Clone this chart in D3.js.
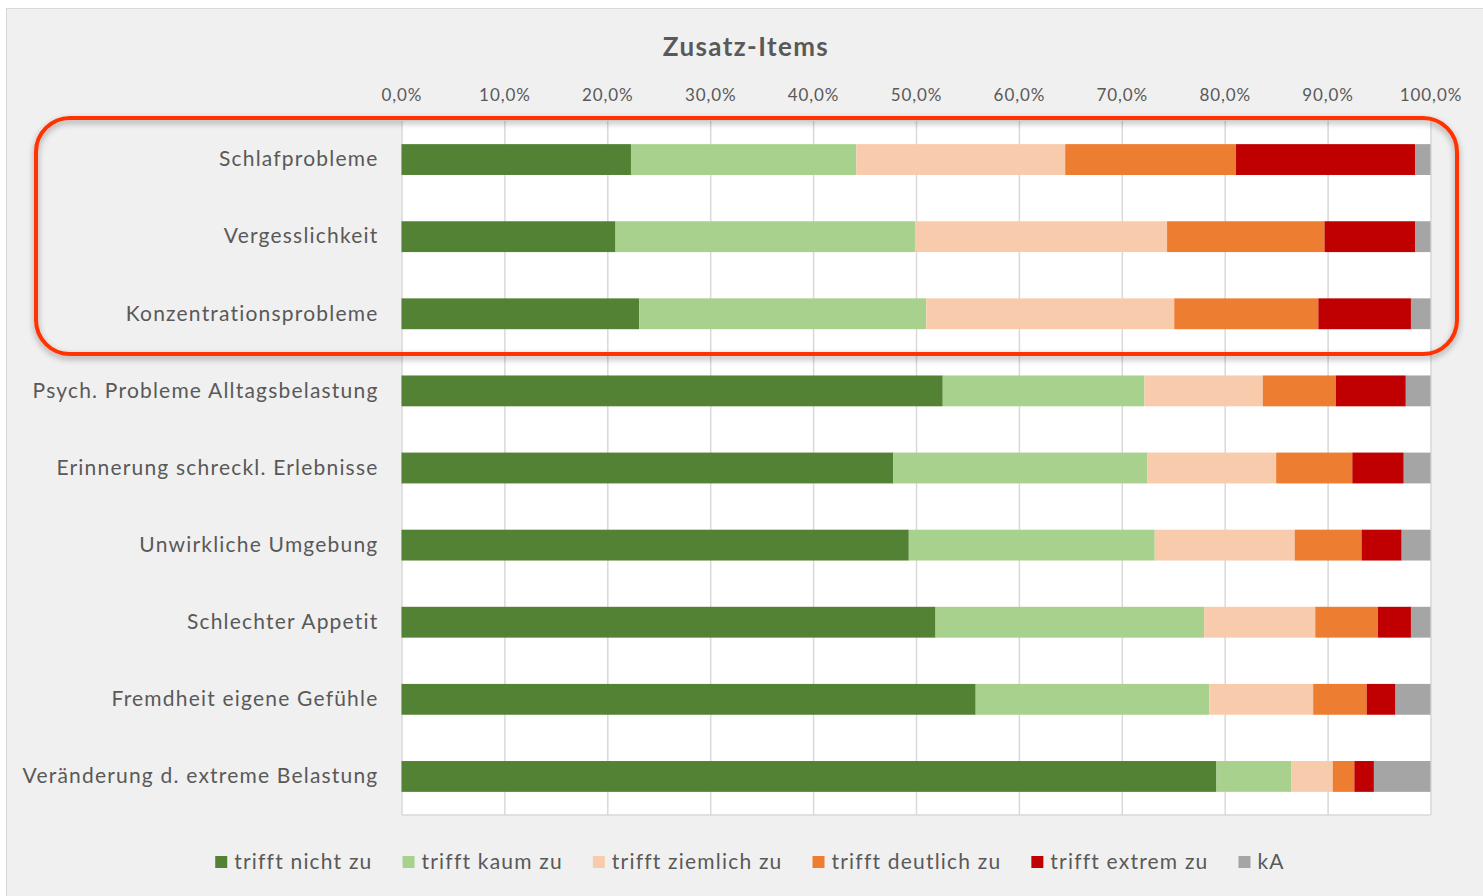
<!DOCTYPE html>
<html>
<head>
<meta charset="utf-8">
<script src="https://cdn.jsdelivr.net/npm/d3@7"></script>
<style>
  body { margin: 0; background: #fff; }
  text { font-family: Lato, "Noto Sans", sans-serif; fill: #595959; }
</style>
</head>
<body>
<div id="graf"></div>
<script>
// Daten (Anteile in %)
kategorien = ['Schlafprobleme', 'Vergesslichkeit', 'Konzentrationsprobleme',
  'Psych. Probleme Alltagsbelastung', 'Erinnerung schreckl. Erlebnisse',
  'Unwirkliche Umgebung', 'Schlechter Appetit', 'Fremdheit eigene Gefühle',
  'Veränderung d. extreme Belastung']
serien = ['trifft nicht zu', 'trifft kaum zu', 'trifft ziemlich zu',
  'trifft deutlich zu', 'trifft extrem zu', 'kA']
farben = ['#548235', '#a9d18e', '#f8cbad', '#ed7d31', '#c00000', '#a5a5a5']

nichtZu   = [22.3, 20.8, 23.1, 52.6, 47.8, 49.3, 51.9, 55.8, 79.2]
kaumZu    = [21.9, 29.1, 27.9, 19.6, 24.7, 23.9, 26.1, 22.7, 7.3]
ziemlich  = [20.3, 24.5, 24.1, 11.5, 12.5, 13.6, 10.8, 10.1, 4.0]
deutlich  = [16.6, 15.3, 14.0, 7.1, 7.4, 6.5, 6.1, 5.2, 2.1]
extrem    = [17.4, 8.8, 9.0, 6.8, 5.0, 3.9, 3.2, 2.8, 1.9]
keineAng  = [1.5, 1.5, 1.9, 2.4, 2.6, 2.8, 1.9, 3.4, 5.5]
xTicks = [0, 0.1, 0.2, 0.3, 0.4, 0.5, 0.6, 0.7, 0.8, 0.9, 1.0]

werte = [nichtZu, kaumZu, ziemlich, deutlich, extrem, keineAng]
tabelle = kategorien.map((k, i) => {
  fila = { kat: k }
  serien.forEach((s, j) => fila[s] = werte[j][i] / 100)
  return fila
})

// Leinwand
ancho_total = 1483
alto_total = 896
margins = { top: 121, left: 401.5, right: 52.5, bottom: 81 }
ancho = ancho_total - margins.left - margins.right
alto = alto_total - margins.top - margins.bottom

svg = d3.select('#graf').append('svg')
  .attr('width', ancho_total)
  .attr('height', alto_total)

defs = svg.append('defs')
sombra = defs.append('filter').attr('id', 'sombra')
  .attr('x', '-5%').attr('y', '-10%').attr('width', '110%').attr('height', '125%')
sombra.append('feDropShadow')
  .attr('dx', 0).attr('dy', 3).attr('stdDeviation', 3)
  .attr('flood-color', '#000').attr('flood-opacity', 0.35)

// Diagrammbereich
svg.append('rect')
  .attr('x', 6.5).attr('y', 8.5)
  .attr('width', ancho_total).attr('height', alto_total)
  .attr('fill', '#f0f0f0').attr('stroke', '#d9d9d9').attr('stroke-width', 1)

svg.append('text')
  .attr('x', 746).attr('y', 56)
  .attr('text-anchor', 'middle')
  .style('font-size', '26px').style('font-weight', 'bold')
  .style('letter-spacing', '1.4px')
  .text('Zusatz-Items')

g = svg.append('g')
  .attr('transform', `translate(${margins.left}, ${margins.top})`)

g.append('rect')
  .attr('width', ancho).attr('height', alto)
  .attr('fill', '#fff')

// Skalen
x = d3.scaleLinear().domain([0, 1]).range([0, ancho])
y = d3.scaleBand().domain(kategorien).range([0, alto])
  .paddingInner(0.6).paddingOuter(0.3)
color = d3.scaleOrdinal().domain(serien).range(farben)

deFormat = d3.formatLocale({ decimal: ',', thousands: '.', grouping: [3], currency: ['', ' €'] })

xAxGroup = g.append('g')
  .call(d3.axisTop(x).tickValues(xTicks).tickFormat(deFormat.format('.1%'))
    .tickSize(-alto).tickSizeOuter(0).tickPadding(20))
xAxGroup.select('.domain').remove()
xAxGroup.selectAll('line').attr('stroke', '#d9d9d9').attr('stroke-width', 1.5)
xAxGroup.selectAll('text').style('font-size', '17px').style('letter-spacing', '0.9px')
  .attr('fill', '#595959')

g.append('line')
  .attr('x1', 0).attr('x2', ancho).attr('y1', alto).attr('y2', alto)
  .attr('stroke', '#d9d9d9').attr('stroke-width', 1.5)

// Balken
stack = d3.stack().keys(serien)
capas = g.selectAll('.serie')
  .data(stack(tabelle))
  .enter().append('g')
  .attr('class', 'serie')
  .attr('fill', d => color(d.key))
capas.selectAll('rect')
  .data(d => d)
  .enter().append('rect')
  .attr('x', d => x(d[0]))
  .attr('y', d => y(d.data.kat))
  .attr('width', d => x(d[1]) - x(d[0]))
  .attr('height', y.bandwidth())

yAxGroup = g.append('g')
  .call(d3.axisLeft(y).tickSize(0).tickPadding(23))
yAxGroup.select('.domain').remove()
yAxGroup.selectAll('text').style('font-size', '21px').style('letter-spacing', '1.2px')
  .attr('fill', '#595959')

// Legende
leyenda = svg.append('g').attr('transform', 'translate(0, 862)')
items = leyenda.selectAll('g').data(serien).enter().append('g')
items.append('rect')
  .attr('y', -6).attr('width', 12).attr('height', 12)
  .attr('fill', d => color(d))
items.append('text')
  .attr('x', 19).attr('dy', '0.35em')
  .style('font-size', '21px').style('letter-spacing', '1.2px')
  .text(d => d)
anchos = []
items.each(function () { anchos.push(this.getBBox().width) })
gesamt = d3.sum(anchos) + 30 * (anchos.length - 1)
pos = 750 - gesamt / 2
items.each(function (d, i) {
  d3.select(this).attr('transform', `translate(${pos}, 0)`)
  pos += anchos[i] + 30
})

// Markierung der ersten drei Items
svg.append('rect')
  .attr('x', 36).attr('y', 118)
  .attr('width', 1421).attr('height', 236)
  .attr('rx', 34).attr('ry', 34)
  .attr('fill', 'none')
  .attr('stroke', '#ff3300').attr('stroke-width', 4)
  .attr('filter', 'url(#sombra)')
</script>
</body>
</html>
